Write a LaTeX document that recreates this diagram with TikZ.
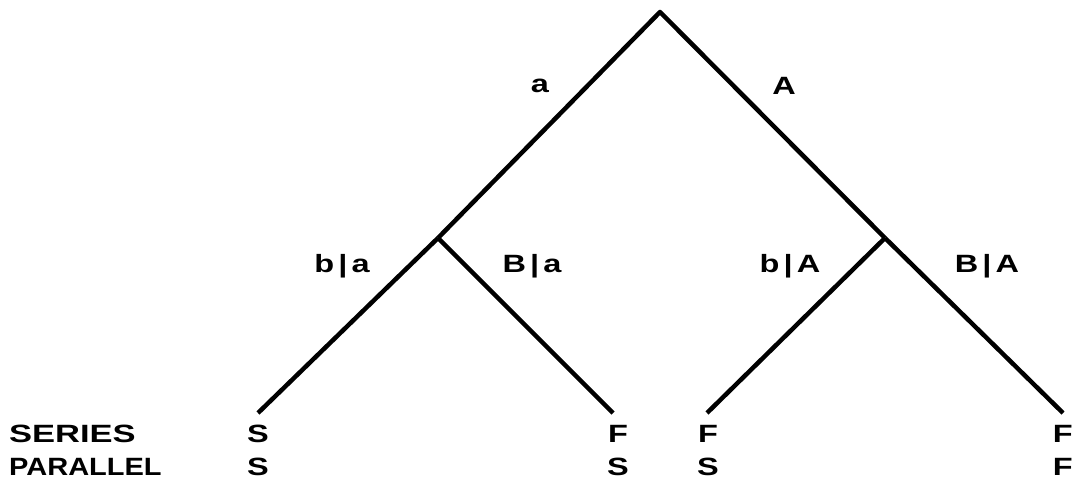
\documentclass[tikz,border=0pt]{standalone}
\usepackage{fontspec}
\setmainfont{Liberation Sans}[FakeStretch=1.3]
\newfontfamily\wideser{Liberation Sans}[FakeStretch=1.38]
\newfontfamily\widepar{Liberation Sans}[FakeStretch=1.16]
\begin{document}
\begin{tikzpicture}[x=1pt,y=-1pt,
  branch/.style={line width=4.5pt,line join=round,black},
  lbl/.style={font=\fontsize{25}{25}\selectfont\bfseries,inner sep=0pt},
  leaf/.style={lbl}]
\useasboundingbox (0,0) rectangle (1073,489);
\coordinate (root) at (660,12);
\coordinate (jl) at (438,238);
\coordinate (jr) at (885,238);
\coordinate (ll) at (258,413);
\coordinate (lr) at (613,413);
\coordinate (rl) at (707,413);
\coordinate (rr) at (1063,413);
\draw[branch] (jl) -- (root) -- (jr);
\draw[branch] (jl) -- (ll);
\draw[branch] (jl) -- (lr);
\draw[branch] (jr) -- (rl);
\draw[branch] (jr) -- (rr);
\node[lbl] (la) at (540,86) {a};
\node[lbl] (lA) at (784,86) {A};
\node[lbl] (lba) at (342,266) {b\,|\,a};
\node[lbl] (lBa) at (532,266) {B\,|\,a};
\node[lbl] (lbA) at (790,266) {b\,|\,A};
\node[lbl] (lBA) at (987,266) {B\,|\,A};
\node[lbl,anchor=west] (series) at (9,434) {\wideser SERIES};
\node[lbl,anchor=west] (parallel) at (9,467) {\widepar PARALLEL};
\node[leaf] (s1) at (258,434) {S};
\node[leaf] (p1) at (258,467) {S};
\node[leaf] (s2) at (618,434) {F};
\node[leaf] (p2) at (618,467) {S};
\node[leaf] (s3) at (708,434) {F};
\node[leaf] (p3) at (708,467) {S};
\node[leaf,anchor=east] (s4) at (1073,434) {F};
\node[leaf,anchor=east] (p4) at (1073,467) {F};
\end{tikzpicture}
\end{document}
